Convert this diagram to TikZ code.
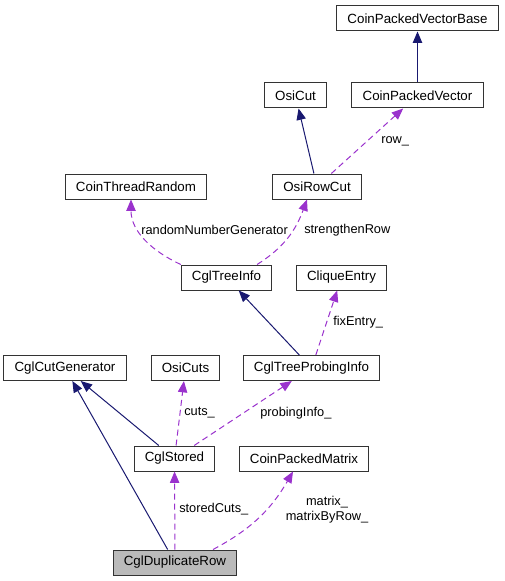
\documentclass[tikz,border=0pt]{standalone}
\usepackage{fontspec}
\setmainfont{Liberation Sans}
\usetikzlibrary{arrows.meta}
\definecolor{inheritblue}{HTML}{191970}
\definecolor{usepurple}{HTML}{9A32CD}
\begin{document}
\begin{tikzpicture} [
                x=0.75pt, y=-0.75pt,
                class/.style={draw=black!80, fill=white, line width=0.75pt, minimum height=18.75pt,
                    inner xsep=8pt, inner ysep=0pt, font=\fontsize{10}{12}\selectfont},
                current class/.style = {class, fill=black!27},
                inherit/.style = {draw=inheritblue, line width=0.75pt, -{Triangle[length=8.5pt,width=7pt]}},
                uses/.style = {draw=usepurple, line width=0.75pt, dash pattern=on 4.5pt off 3pt,
                    -{Triangle[length=8.5pt,width=7pt]}},
                member/.style = {font=\fontsize{9.6}{11.5}\selectfont, inner sep=0pt, anchor=west},
            ]
            \useasboundingbox (0,0) rectangle (504,581);
            \foreach \pos/\name/\text in {
                    {(417.5,18.5)/base/CoinPackedVectorBase}, {(295.5,95.5)/osicut/OsiCut},
                    {(417.5,95.5)/vector/CoinPackedVector}, {(136,186.5)/random/CoinThreadRandom},
                    {(317,186.5)/rowcut/OsiRowCut}, {(226.5,277.5)/treeinfo/CglTreeInfo},
                    {(341.5,277.5)/clique/CliqueEntry}, {(65,368)/cutgen/CglCutGenerator},
                    {(185.5,368)/osicuts/OsiCuts}, {(311.5,368)/probing/CglTreeProbingInfo},
                    {(174.5,458.5)/stored/CglStored}, {(304,458.5)/matrix/CoinPackedMatrix}}
                \node[class] (\name) at \pos {\text};
            \node[current class] (duprow) at (175,562.5) {CglDuplicateRow};
            % base classes
            \foreach \source/ \dest in {
                    vector/base, rowcut/osicut, probing/treeinfo, stored/cutgen, duprow/cutgen}
                \draw[inherit] (\source) -- (\dest);
            % members
            \foreach \source/ \dest in {
                    rowcut/vector, probing/clique, stored/osicuts, stored/probing, duprow/stored}
                \draw[uses] (\source) -- (\dest);
            \draw[uses] (treeinfo.north west) to[out=155, in=-90] ([xshift=-3.75pt]random.south);
            \draw[uses] ([xshift=22.9pt]treeinfo.north) to[out=32, in=-110] ([xshift=-7.5pt]rowcut.south);
            \draw[uses] ([xshift=28.5pt]duprow.north) to[out=28, in=-120] ([xshift=-8.25pt]matrix.south);
            % member names
            \node[member] (row) at (381,141) {row\_};
            \node[member] (rng) at (141,230) {randomNumberGenerator};
            \node[member] (strengthen) at (304,230) {strengthenRow};
            \node[member] (fix) at (333,322) {fixEntry\_};
            \node[member] (cuts) at (184,413) {cuts\_};
            \node[member] (probinginfo) at (260,413) {probingInfo\_};
            \node[member] (storedcuts) at (179,509) {storedCuts\_};
            \node[member, anchor=center, align=center] (matrices) at (327,509.5) {matrix\_\\matrixByRow\_};
        \end{tikzpicture}
\end{document}
